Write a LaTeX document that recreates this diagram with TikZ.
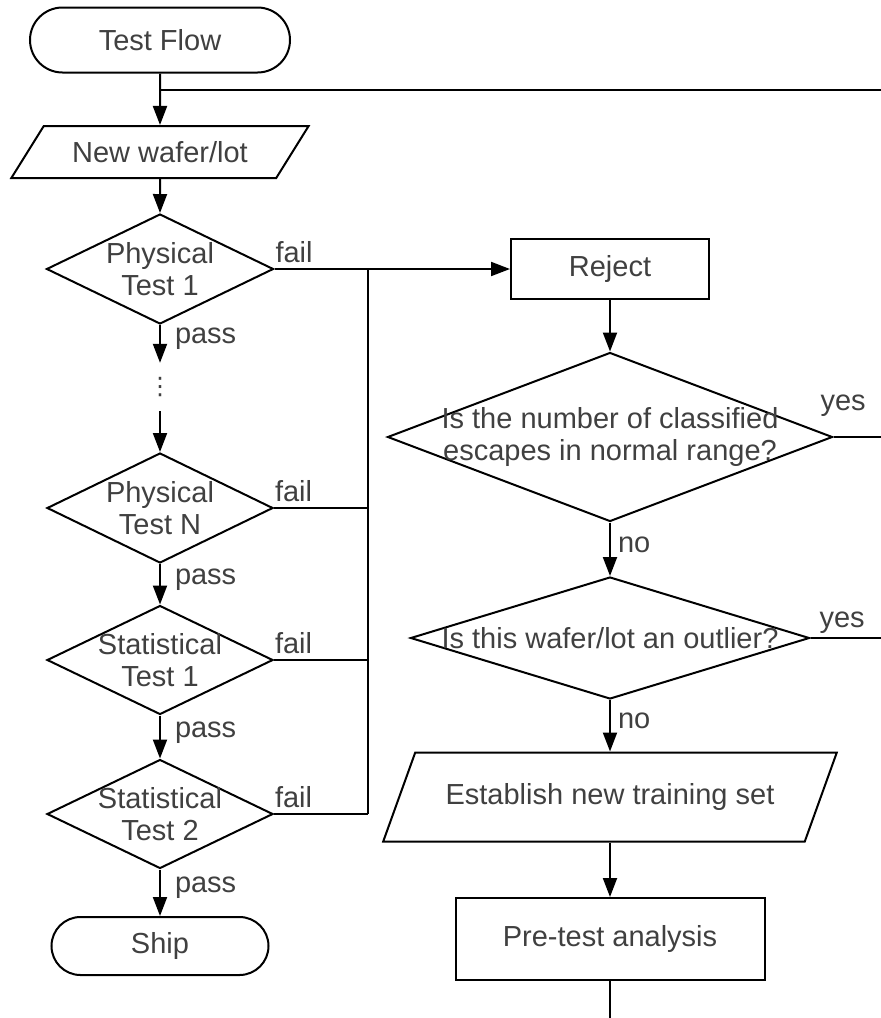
\documentclass[tikz,border=0pt]{standalone}
\usepackage{fontspec}
\setmainfont{Liberation Sans}
\newfontfamily\symfont{DejaVu Sans}
\usetikzlibrary{shapes.geometric,shapes.misc,arrows.meta}
\tikzstyle{every node}=[font=\fontsize{29pt}{32pt}\selectfont,text=black!75]
\tikzstyle{term}=[draw=black,line width=2pt,rounded rectangle,inner sep=0pt]
\tikzstyle{io}=[draw=black,line width=2pt,trapezium,trapezium stretches=true,inner sep=0pt]
\tikzstyle{proc}=[draw=black,line width=2pt,rectangle,inner sep=0pt]
\tikzstyle{dec}=[draw=black,line width=2pt,diamond,inner sep=0pt]
\tikzstyle{txt}=[align=center,inner sep=0pt]
\tikzstyle{lbl}=[inner sep=0pt,anchor=base west]
\tikzstyle{wire}=[line width=2pt]
\tikzstyle{arr}=[line width=2pt,-{Triangle[length=19pt,width=14pt]}]

\begin{document}
\begin{tikzpicture}[x=1pt,y=-1pt]
    \useasboundingbox (0,0) rectangle (881,1018);
    \node[term,minimum width=260pt,minimum height=65pt] (start) at (160,40) {Test Flow};
    \node[io,trapezium left angle=41,trapezium right angle=139,minimum width=298pt,minimum height=52pt] (lot) at (160,152) {New wafer/lot};
    \node[dec,minimum width=227pt,minimum height=110pt] (phy1) at (160,269) {};
    \node[inner sep=0pt,minimum height=48pt,font=\symfont\fontsize{24pt}{26pt}\selectfont] (dots) at (160,387) {⋮};
    \node[dec,minimum width=226pt,minimum height=110pt] (phyn) at (160,508) {};
    \node[dec,minimum width=226pt,minimum height=109pt] (stat1) at (160,660) {};
    \node[dec,minimum width=226pt,minimum height=109pt] (stat2) at (160,814) {};
    \node[term,minimum width=217pt,minimum height=58pt] (ship) at (160,946) {Ship};

    \node[proc,minimum width=198pt,minimum height=60pt] (reject) at (610,269) {Reject};
    \node[dec,minimum width=445pt,minimum height=169pt] (escapes) at (610,437) {};
    \node[dec,minimum width=399pt,minimum height=122pt] (outlier) at (610,638) {};
    \node[io,trapezium left angle=45,trapezium right angle=135,minimum width=454pt,minimum height=89pt] (train) at (610,797) {Establish new training set};
    \node[proc,minimum width=309pt,minimum height=82pt] (pretest) at (610,939) {Pre-test analysis};

    \node[txt] (phy1t) at (phy1) {Physical\\Test 1};
    \node[txt] (phynt) at (phyn) {Physical\\Test N};
    \node[txt] (stat1t) at (stat1) {Statistical\\Test 1};
    \node[txt] (stat2t) at (stat2) {Statistical\\Test 2};
    \node[txt] (escapest) at (escapes) {Is the number of classified\\escapes in normal range?};
    \node[txt] (outliert) at (outlier) {Is this wafer/lot an outlier?};

    \coordinate (loop) at (881,90);
    \coordinate (bus) at (368,269);
    \coordinate (out) at (610,1018);

    \draw[arr] (start) -- (lot);
    \draw[wire] (loop -| start) -- (loop);
    \draw[arr] (lot) -- (phy1);
    \draw[arr] (dots) -- (phyn);
    \foreach \from/\to in {phy1/dots,phyn/stat1,stat1/stat2,stat2/ship}
    \draw[arr] (\from) -- node[lbl,pos=0.5,xshift=14pt] {pass} (\to);

    \draw[arr] (phy1.east) -- node[lbl,pos=0,yshift=7pt] {fail} (reject.west);
    \foreach \from in {phyn,stat1,stat2}
    \draw[wire] (\from.east) -- node[lbl,pos=0,yshift=7pt] {fail} (\from.east -| bus);
    \draw[wire] (bus) -- (bus |- stat2.east);

    \draw[arr] (reject) -- (escapes);
    \draw[arr] (escapes) -- node[lbl,pos=0.56,xshift=7pt] {no} (outlier);
    \draw[arr] (outlier) -- node[lbl,pos=0.56,xshift=7pt] {no} (train);
    \draw[arr] (train) -- (pretest);
    \draw[wire] (pretest) -- (out);
    \draw[wire] (escapes.east) -- node[lbl,pos=0,xshift=-14pt,yshift=27pt] {yes} (escapes.east -| loop);
    \draw[wire] (outlier.east) -- node[lbl,pos=0,xshift=8pt,yshift=11pt] {yes} (outlier.east -| loop);
\end{tikzpicture}
\end{document}
